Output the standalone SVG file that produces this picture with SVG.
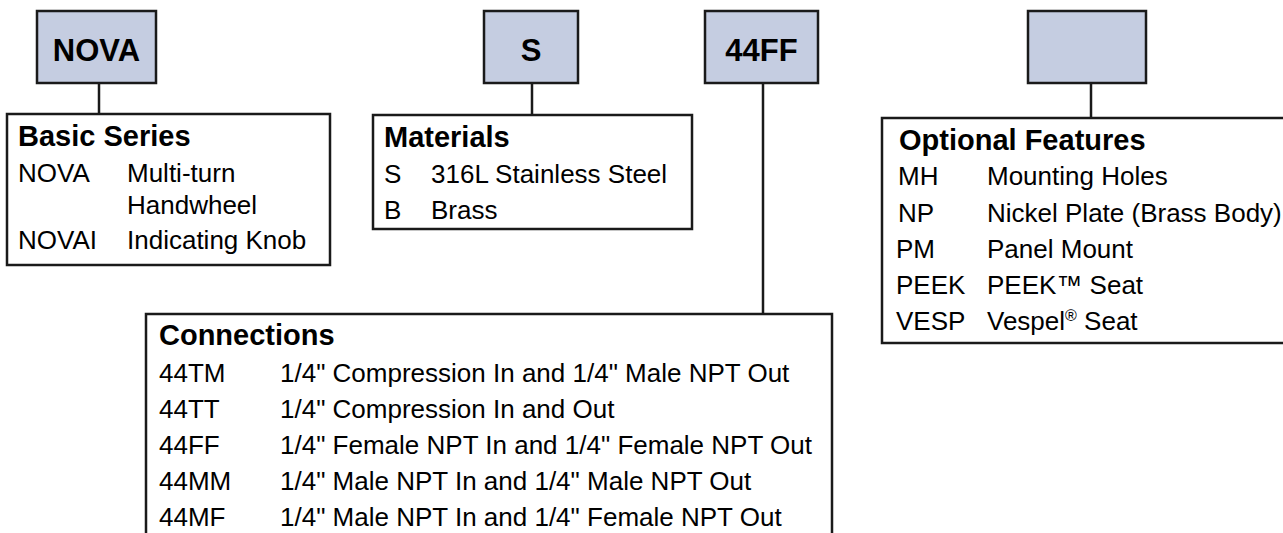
<svg xmlns="http://www.w3.org/2000/svg" width="1283" height="533" viewBox="0 0 1283 533">
<style>
.code{fill:#c5cde1;stroke:#1a1a1a;stroke-width:2.5}
.panel{fill:#ffffff;stroke:#1a1a1a;stroke-width:2.5}
.lbl{font-family:"Liberation Sans",Arial,sans-serif;font-weight:bold;font-size:31px;fill:#000;text-anchor:middle}
.ttl{font-family:"Liberation Sans",Arial,sans-serif;font-weight:bold;font-size:29px;fill:#000}
.row{font-family:"Liberation Sans",Arial,sans-serif;font-size:26px;fill:#000}
.conn{stroke:#1a1a1a;stroke-width:2.5;fill:none}
</style>
<rect width="1283" height="533" fill="#ffffff"/>
<g id="connectors">
<line class="conn" x1="99" y1="83" x2="99" y2="114"/>
<line class="conn" x1="532" y1="83" x2="532" y2="115"/>
<line class="conn" x1="763" y1="83" x2="763" y2="314"/>
<line class="conn" x1="1091" y1="83" x2="1091" y2="118"/>
</g>
<g id="node-nova">
<rect class="code" x="37" y="11" width="119" height="72"/>
<text class="lbl" x="96.5" y="61">NOVA</text>
</g>
<g id="node-s">
<rect class="code" x="484" y="11" width="94" height="72"/>
<text class="lbl" x="531" y="61">S</text>
</g>
<g id="node-44ff">
<rect class="code" x="705" y="11" width="113" height="72"/>
<text class="lbl" x="761.5" y="61">44FF</text>
</g>
<g id="node-blank">
<rect class="code" x="1028" y="11" width="118" height="72"/>
</g>
<g id="basic-series">
<rect class="panel" x="7" y="114" width="323" height="151"/>
<text class="ttl" x="18" y="146">Basic Series</text>
<text class="row" x="18" y="182">NOVA</text>
<text class="row" x="127" y="182">Multi-turn</text>
<text class="row" x="127" y="214">Handwheel</text>
<text class="row" x="18" y="249">NOVAI</text>
<text class="row" x="127" y="249">Indicating Knob</text>
</g>
<g id="materials">
<rect class="panel" x="373" y="115" width="319" height="114"/>
<text class="ttl" x="384" y="147">Materials</text>
<text class="row" x="384" y="183">S</text>
<text class="row" x="431" y="183">316L Stainless Steel</text>
<text class="row" x="384" y="219">B</text>
<text class="row" x="431" y="219">Brass</text>
</g>
<g id="connections">
<rect class="panel" x="146" y="314" width="686" height="240"/>
<text class="ttl" x="159" y="345">Connections</text>
<text class="row" x="159" y="382">44TM</text>
<text class="row" x="280" y="382">1/4" Compression In and 1/4" Male NPT Out</text>
<text class="row" x="159" y="418">44TT</text>
<text class="row" x="280" y="418">1/4" Compression In and Out</text>
<text class="row" x="159" y="454">44FF</text>
<text class="row" x="280" y="454">1/4" Female NPT In and 1/4" Female NPT Out</text>
<text class="row" x="159" y="490">44MM</text>
<text class="row" x="280" y="490">1/4" Male NPT In and 1/4" Male NPT Out</text>
<text class="row" x="159" y="526">44MF</text>
<text class="row" x="280" y="526">1/4" Male NPT In and 1/4" Female NPT Out</text>
</g>
<g id="optional-features">
<rect class="panel" x="882" y="118" width="420" height="225"/>
<text class="ttl" x="899" y="150">Optional Features</text>
<text class="row" x="898" y="185">MH</text>
<text class="row" x="987" y="185">Mounting Holes</text>
<text class="row" x="898" y="222">NP</text>
<text class="row" x="987" y="222">Nickel Plate (Brass Body)</text>
<text class="row" x="896" y="258">PM</text>
<text class="row" x="987" y="258">Panel Mount</text>
<text class="row" x="896" y="294">PEEK</text>
<text class="row" x="987" y="294">PEEK™ Seat</text>
<text class="row" x="896" y="330">VESP</text>
<text class="row" x="987" y="330">Vespel<tspan font-size="16" dy="-9">®</tspan><tspan dy="9"> Seat</tspan></text>
</g>
</svg>
